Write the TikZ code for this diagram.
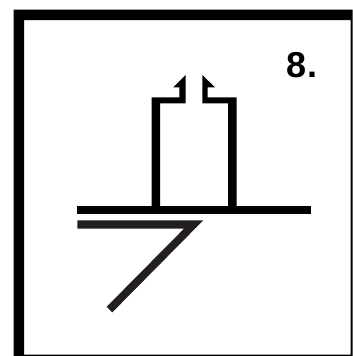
\documentclass[tikz,border=0pt]{standalone}
\usepackage{fontspec}
\setsansfont{Liberation Sans}
\definecolor{plate}{HTML}{231F20}
\begin{document}
\begin{tikzpicture}[x=1pt,y=-1pt]
\tikzstyle{solid part} = [fill=black, draw=none]
\tikzstyle{gray part} = [fill=plate, draw=none]
\tikzstyle{number} = [font=\sffamily\bfseries\fontsize{36}{36}\selectfont,
    text=black, inner sep=0pt, anchor=center]
\useasboundingbox (0,0) rectangle (353,356);

% frame
\fill [solid part, even odd rule] (13.5,9.5) rectangle (352.5,356)
    (24,20) rectangle (350.5,354.5);

% duct, left and right halves
\fill [solid part] (151.5,207) -- (151.5,97.3) -- (179.3,97.3) -- (179.3,87.3)
    -- (173.3,87.3) -- (185.7,75) -- (185.7,103.3) -- (160.2,103.3) -- (160.2,207) -- cycle;
\fill [solid part] (236.5,207) -- (236.5,97.3) -- (207.7,97.3) -- (207.7,87.3)
    -- (215,87.3) -- (202.3,75) -- (202.3,103.3) -- (228,103.3) -- (228,207) -- cycle;

% bar
\fill [solid part] (77.3,206.3) rectangle (311,214.3);

% lower plate
\fill [gray part] (77.3,220.3) -- (203.3,220.3) -- (112.3,312.3) -- (106.7,306.7)
    -- (184,228.7) -- (77.3,228.7) -- cycle;

\node (label) [number] at (302,65) {8.};
\end{tikzpicture}
\end{document}
